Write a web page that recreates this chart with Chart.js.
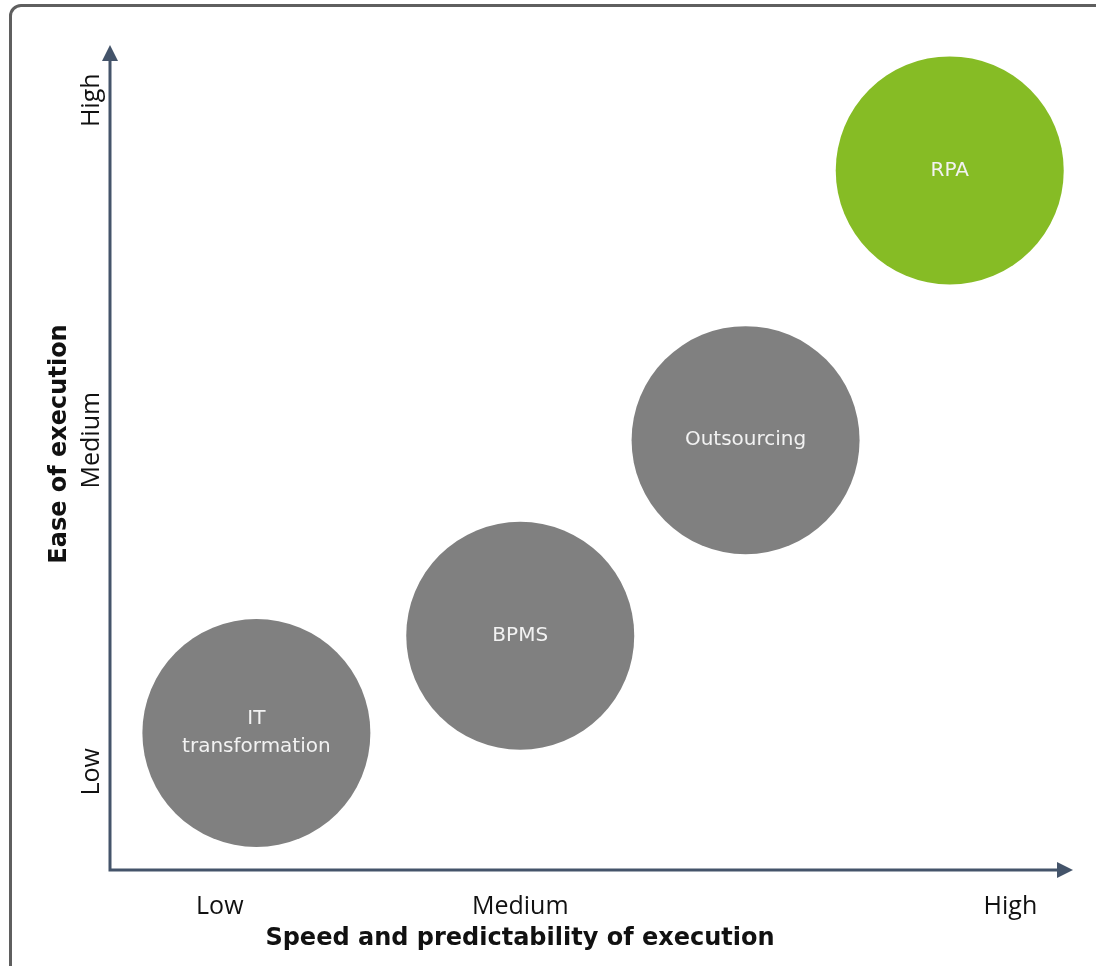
<!DOCTYPE html>
<html>
<head>
<meta charset="utf-8">
<script src="https://cdn.jsdelivr.net/npm/chart.js@4/dist/chart.umd.min.js"></script>
<style>
  html, body { margin: 0; padding: 0; background: #fff; overflow: hidden; }
  #frame {
    position: absolute; left: 9px; top: 4px; width: 1200px; height: 1100px;
    border: 3px solid #5f5f5f; border-radius: 12px; box-sizing: border-box;
  }
  #chart { position: absolute; left: 0; top: 0; }
</style>
</head>
<body>
<div id="frame"></div>
<canvas id="chart" width="1096" height="966"></canvas>
<script>
// bubbles (position on a 0-10 scale for each axis)
const names = [['IT', 'transformation'], ['BPMS'], ['Outsourcing'], ['RPA']];
const speed = [1.52, 4.26, 6.60, 8.72];
const ease = [1.66, 2.84, 5.21, 8.48];
const colors = ['#808080', '#808080', '#808080', '#86bc25'];

// axis tick labels and where they sit on the scale
const tickLabels = ['Low', 'Medium', 'High'];
const xTickValues = [1.14, 4.26, 9.35];
const yTickValues = [1.19, 5.21, 9.33];

const axisColor = '#44546a';

const drawArrow = (ctx, x, y, dir) => {
    ctx.beginPath();
    if (dir === 'up') {
        ctx.moveTo(x, y);
        ctx.lineTo(x - 8, y + 16);
        ctx.lineTo(x + 8, y + 16);
    } else {
        ctx.moveTo(x, y);
        ctx.lineTo(x - 16, y - 8);
        ctx.lineTo(x - 16, y + 8);
    }
    ctx.closePath();
    ctx.fill();
};

const axesPlugin = {
    id: 'axes',
    beforeDatasetsDraw(chart) {
        const { ctx, chartArea: a } = chart;
        ctx.save();
        ctx.strokeStyle = axisColor;
        ctx.fillStyle = axisColor;
        ctx.lineWidth = 3;
        ctx.beginPath();
        ctx.moveTo(a.left, a.top + 10);
        ctx.lineTo(a.left, a.bottom);
        ctx.lineTo(a.right - 10, a.bottom);
        ctx.stroke();
        drawArrow(ctx, a.left, a.top, 'up');
        drawArrow(ctx, a.right, a.bottom, 'right');
        ctx.restore();
    },
    afterDatasetsDraw(chart) {
        const { ctx, chartArea: a, scales } = chart;
        ctx.save();
        ctx.fillStyle = '#111';
        ctx.textAlign = 'center';
        ctx.textBaseline = 'middle';
        ctx.font = '25px "Open Sans"';
        tickLabels.forEach((t, i) => {
            ctx.fillText(t, scales.x.getPixelForValue(xTickValues[i]), a.bottom + 37);
            ctx.save();
            ctx.translate(a.left - 18, scales.y.getPixelForValue(yTickValues[i]));
            ctx.rotate(-Math.PI / 2);
            ctx.fillText(t, 0, 0);
            ctx.restore();
        });
        ctx.font = 'bold 24px "DejaVu Sans"';
        ctx.fillText('Speed and predictability of execution', 520, a.bottom + 69);
        ctx.save();
        ctx.translate(a.left - 50, 444);
        ctx.rotate(-Math.PI / 2);
        ctx.fillText('Ease of execution', 0, 0);
        ctx.restore();

        // bubble names
        ctx.fillStyle = '#f2f2f2';
        ctx.font = '20px "DejaVu Sans"';
        chart.getDatasetMeta(0).data.forEach((el, i) => {
            const lines = names[i];
            const lh = 28;
            const y0 = el.y - (lines.length - 1) * lh / 2;
            lines.forEach((l, j) => ctx.fillText(l, el.x, y0 + j * lh));
        });
        ctx.restore();
    }
};

new Chart(document.getElementById('chart'), {
    type: 'bubble',
    data: {
        datasets: [{
            data: speed.map((x, i) => ({ x: x, y: ease[i] })),
            backgroundColor: colors,
            borderWidth: 0,
            radius: 114,
            hoverRadius: 0,
            clip: false
        }]
    },
    options: {
        responsive: false,
        animation: false,
        devicePixelRatio: 1,
        layout: { autoPadding: false, padding: { left: 110, top: 45, right: 23, bottom: 96 } },
        scales: {
            x: { type: 'linear', min: 0, max: 10, display: false },
            y: { type: 'linear', min: 0, max: 10, display: false }
        },
        plugins: {
            legend: { display: false },
            tooltip: { enabled: false }
        }
    },
    plugins: [axesPlugin]
});
</script>
</body>
</html>
